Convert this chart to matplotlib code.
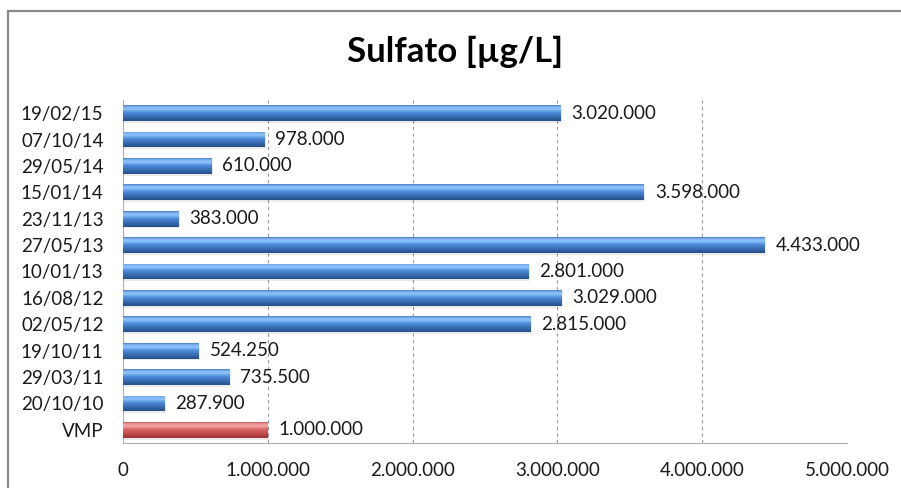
import matplotlib
matplotlib.use("Agg")
import matplotlib.pyplot as plt
import numpy as np
from matplotlib.colors import LinearSegmentedColormap
from matplotlib.patches import Rectangle
from matplotlib.ticker import FuncFormatter

# data, top to bottom as shown in the chart
dates = ["19/02/15", "07/10/14", "29/05/14", "15/01/14", "23/11/13", "27/05/13",
         "10/01/13", "16/08/12", "02/05/12", "19/10/11", "29/03/11", "20/10/10", "VMP"]
values = [3020000, 978000, 610000, 3598000, 383000, 4433000,
          2801000, 3029000, 2815000, 524250, 735500, 287900, 1000000]
x_ticks = [0, 1000000, 2000000, 3000000, 4000000, 5000000]

FONT = "Lato"

blue_cmap = LinearSegmentedColormap.from_list(
    "bevel_blue",
    [(0.0, "#264f88"), (0.3, "#3a70b8"), (0.55, "#4f8fdc"),
     (0.75, "#90c4fc"), (0.9, "#7ab2f2"), (1.0, "#4a7dbd")])
red_cmap = LinearSegmentedColormap.from_list(
    "bevel_red",
    [(0.0, "#9a3434"), (0.3, "#c44c4c"), (0.55, "#db6666"),
     (0.75, "#f5a8a8"), (0.9, "#ec9292"), (1.0, "#bb5b5b")])


def thousands(v, _pos=None):
    return f"{v:,.0f}".replace(",", ".")


def main() -> None:
    n = len(dates)
    ypos = np.arange(n)[::-1]
    fig = plt.figure(figsize=(9.01, 4.88), dpi=100)
    ax = fig.add_axes([0.1365, 0.0922, 0.8035, 0.703])

    bar_h = 0.6
    bars = ax.barh(ypos, values, height=bar_h, color="none", edgecolor="none", zorder=3)
    grad = np.linspace(0, 1, 64).reshape(-1, 1)
    for bar, label in zip(bars, dates):
        cmap = red_cmap if label == "VMP" else blue_cmap
        x0, y0 = bar.get_x(), bar.get_y()
        w, h = bar.get_width(), bar.get_height()
        # soft shadow under the bar
        ax.add_patch(Rectangle((x0, y0 - 0.07), w + 10000, h, facecolor="#000000",
                               alpha=0.08, edgecolor="none", zorder=2))
        im = ax.imshow(grad, extent=[x0, x0 + w, y0, y0 + h], origin="lower",
                       aspect="auto", cmap=cmap, zorder=3, interpolation="bilinear")
        im.set_clip_path(bar)

    for y, v in zip(ypos, values):
        ax.text(v + 75000, y, thousands(v), va="center", ha="left",
                fontsize=13.5, family=FONT, color="#1a1a1a", zorder=4)

    ax.set_xlim(0, 5000000)
    ax.set_ylim(-0.5, n - 0.5)
    ax.set_yticks(ypos)
    ax.set_yticklabels(dates)
    ax.set_xticks(x_ticks)
    ax.xaxis.set_major_formatter(FuncFormatter(thousands))
    ax.tick_params(axis="x", length=0, pad=14, labelsize=13.5, colors="#1a1a1a")
    ax.tick_params(axis="y", length=0, pad=14, labelsize=13.5, colors="#1a1a1a")
    for lab in ax.get_xticklabels() + ax.get_yticklabels():
        lab.set_family(FONT)

    ax.grid(axis="x", linestyle=(0, (3, 3)), color="#9a9a9a", linewidth=0.8, zorder=1)
    ax.set_axisbelow(True)
    for side in ("top", "right"):
        ax.spines[side].set_visible(False)
    ax.spines["left"].set_color("#b0b0b0")
    ax.spines["bottom"].set_color("#b0b0b0")

    fig.text(0.505, 0.893, "Sulfato [µg/L]", ha="center", va="center",
             fontsize=25, fontweight="bold", family=FONT, color="#000000")

    # chart-area frame (right and bottom edges fall outside the picture)
    fig.patches.append(Rectangle((8 / 901, -0.1), 1.2, 1.1 - 11 / 488,
                                 transform=fig.transFigure, fill=False,
                                 edgecolor="#8a8a8a", linewidth=1.6))

    fig.savefig("out.png", dpi=100)
    plt.close(fig)


if __name__ == "__main__":
    main()
